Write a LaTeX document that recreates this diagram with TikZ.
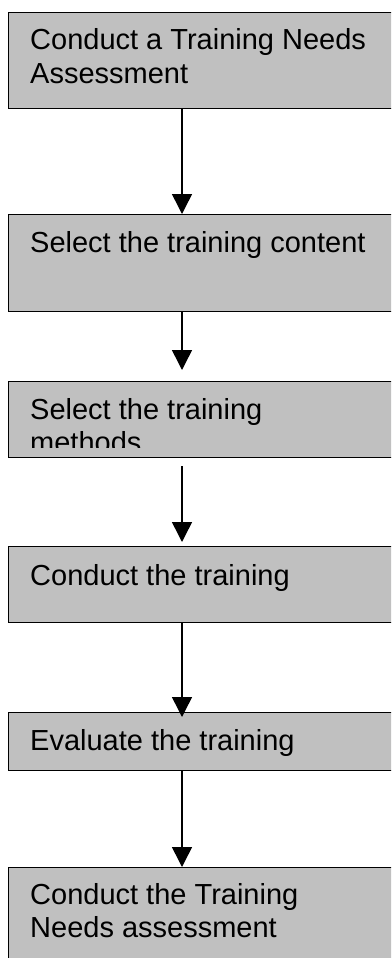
\documentclass[tikz,border=0pt]{standalone}
\usepackage{fontspec}
\setmainfont{Liberation Sans}
\usetikzlibrary{arrows.meta}
\definecolor{silver}{RGB}{192,192,192}

\begin{document}
\begin{tikzpicture}[x=1pt, y=-1pt,
  stepbox/.style={rectangle, draw=black, fill=silver, line width=1.3pt, anchor=north west, minimum width=400pt, inner sep=0pt},
  steptext/.style={anchor=base west, align=left, inner sep=0pt, font=\fontsize{29}{33.5}\selectfont},
  arrow/.style={-{Triangle[length=20pt, width=20pt]}, line width=1.5pt}
]
  \clip (0,0) rectangle (391,958);
  \coordinate (spine) at (182,0);

  \node[stepbox, minimum height=96pt] (assess)  at (8,12)  {};
  \node[stepbox, minimum height=97pt] (content) at (8,214) {};
  \node[stepbox, minimum height=76pt] (methods) at (8,381) {};
  \node[stepbox, minimum height=76pt] (conduct) at (8,546) {};
  \node[stepbox, minimum height=58pt] (evaluate) at (8,712) {};
  \node[stepbox, minimum height=120pt] (reassess) at (8,867) {};

  % two-line texts sit on the baseline of their last line
  \node[steptext] (assesstxt)  at ([shift={(22,71.5)}]assess.north west)  {Conduct a Training Needs\\Assessment};
  \node[steptext] (contenttxt) at ([shift={(22,38)}]content.north west) {Select the training content};
  \begin{scope}
    \clip (8,381) rectangle (391,447);
    \node[steptext] (methodstxt) at ([shift={(22,71.5)}]methods.north west) {Select the training\\methods};
  \end{scope}
  \node[steptext] (conducttxt)  at ([shift={(22,39)}]conduct.north west)  {Conduct the training};
  \node[steptext] (evaluatetxt) at ([shift={(22,38)}]evaluate.north west) {Evaluate the training};
  \node[steptext] (reassesstxt) at ([shift={(22,70.5)}]reassess.north west) {Conduct the Training\\Needs assessment};

  \draw[arrow] (spine |- assess.south)  -- (spine |- content.north);
  \draw[arrow, shorten >=11pt] (spine |- content.south) -- (spine |- methods.north);
  \draw[arrow, shorten <=8pt, shorten >=4pt] (spine |- methods.south) -- (spine |- conduct.north);
  \draw[arrow, shorten >=-5pt] (spine |- conduct.south) -- (spine |- evaluate.north);
  \draw[arrow] (spine |- evaluate.south) -- (spine |- reassess.north);
\end{tikzpicture}
\end{document}
